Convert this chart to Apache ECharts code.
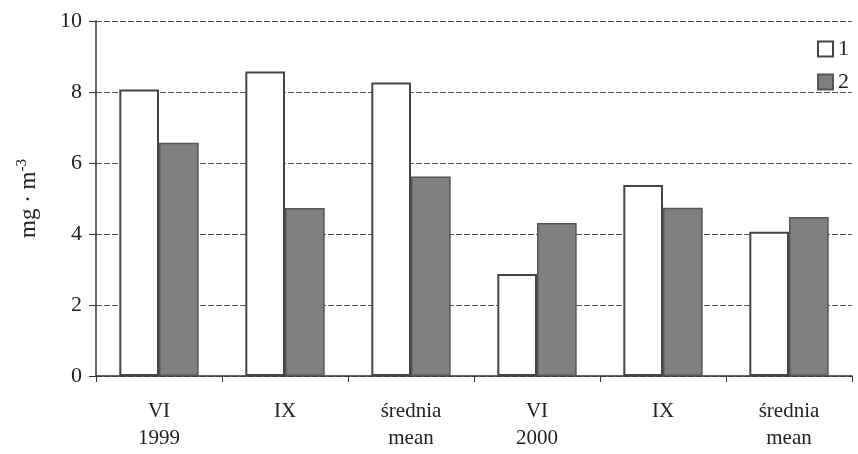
<!DOCTYPE html>
<html><head><meta charset="utf-8">
<script src="https://cdn.jsdelivr.net/npm/echarts@6/dist/echarts.min.js"></script>
<style>html,body{margin:0;padding:0;background:#fff}#c{width:858px;height:454px}</style>
</head><body><div id="c"></div>
<script>
const categories = ['VI\n1999', 'IX', 'średnia\nmean', 'VI\n2000', 'IX', 'średnia\nmean'];
const series1 = [8.07, 8.58, 8.27, 2.87, 5.38, 4.06];
const series2 = [6.57, 4.73, 5.62, 4.31, 4.74, 4.48];
const yTicks = [0, 2, 4, 6, 8, 10];

const chart = echarts.init(document.getElementById('c'));
const font = 'Liberation Serif, Times New Roman, serif';
chart.setOption({
  animation: false,
  textStyle: { fontFamily: font },
  legend: {
    right: 4, top: 33, orient: 'vertical', itemGap: 11,
    itemWidth: 15, itemHeight: 15, icon: 'rect',
    textStyle: { fontFamily: font, fontSize: 22, color: '#222', padding: [0, 0, 0, 0] },
    data: ['1', '2']
  },
  grid: { left: 96, right: 6, top: 21, bottom: 78 },
  xAxis: {
    type: 'category', data: categories,
    axisLine: { lineStyle: { color: '#333', width: 1.5 } },
    axisTick: { show: true, alignWithLabel: false, length: 6, lineStyle: { color: '#333' } },
    axisLabel: { fontFamily: font, fontSize: 21, color: '#222', lineHeight: 27, margin: 22, interval: 0 }
  },
  yAxis: {
    type: 'value', min: 0, max: 10, interval: 2,
    name: 'mg · m{sup|-3}', nameLocation: 'middle', nameGap: 54, nameRotate: 90,
    nameTextStyle: { fontFamily: font, fontSize: 23, color: '#222',
      rich: { sup: { fontFamily: font, fontSize: 15, verticalAlign: 'top', padding: [0, 0, 12, 0] } } },
    axisLine: { show: true, lineStyle: { color: '#333', width: 1.5 } },
    axisTick: { show: true, length: 7, lineStyle: { color: '#333' } },
    axisLabel: { fontFamily: font, fontSize: 22, color: '#222', margin: 14,
      formatter: v => yTicks.includes(v) ? String(v) : '' },
    splitLine: { show: true, lineStyle: { color: '#555', width: 1, type: [6, 2] } }
  },
  series: [
    { name: '1', type: 'bar', data: series1, barGap: '0%', barCategoryGap: '37%',
      itemStyle: { color: '#ffffff', borderColor: '#444', borderWidth: 2 } },
    { name: '2', type: 'bar', data: series2,
      itemStyle: { color: '#808080', borderColor: '#555', borderWidth: 1.5 } }
  ]
});
</script></body></html>
